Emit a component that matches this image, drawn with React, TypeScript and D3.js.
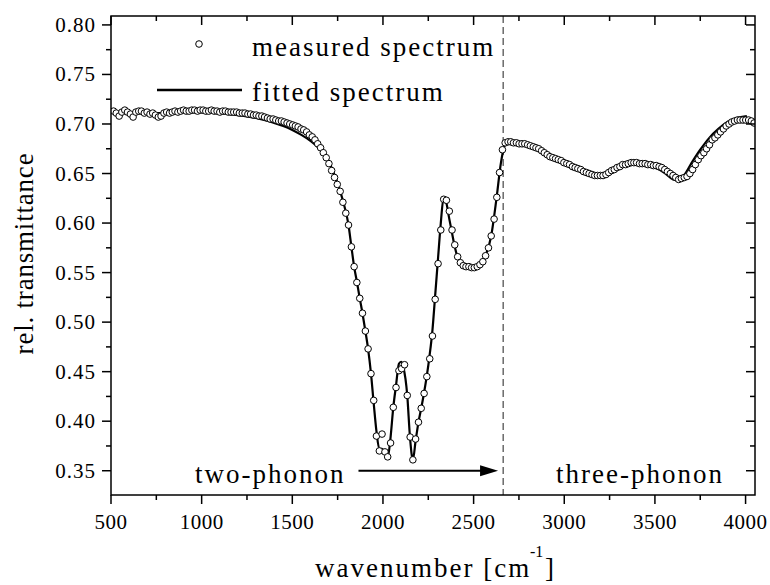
import React from 'react';
import * as d3 from 'd3';

// measured spectrum: wavenumber [cm^-1]
const wavenumbers = [
  514, 529, 545, 560, 576, 591, 607, 622, 637, 653,
  668, 684, 699, 715, 730, 745, 761, 776, 792, 807,
  823, 838, 853, 869, 884, 900, 915, 931, 946, 961,
  977, 992, 1008, 1023, 1039, 1054, 1069, 1085, 1100, 1116,
  1131, 1147, 1162, 1177, 1193, 1208, 1224, 1239, 1255, 1270,
  1286, 1301, 1316, 1332, 1347, 1363, 1378, 1394, 1409, 1425,
  1440, 1455, 1471, 1486, 1502, 1517, 1532, 1548, 1563, 1579,
  1594, 1610, 1625, 1640, 1656, 1671, 1687, 1702, 1717, 1733,
  1748, 1764, 1779, 1795, 1810, 1826, 1841, 1856, 1872, 1887,
  1903, 1918, 1934, 1949, 1964, 1980, 1995, 2011, 2026, 2042,
  2057, 2072, 2088, 2103, 2119, 2134, 2150, 2165, 2180, 2196,
  2211, 2227, 2242, 2258, 2273, 2288, 2304, 2319, 2335, 2350,
  2366, 2381, 2396, 2412, 2427, 2443, 2458, 2474, 2489, 2504,
  2520, 2535, 2551, 2566, 2582, 2597, 2613, 2628, 2643, 2659,
  2674, 2690, 2705, 2720, 2736, 2751, 2767, 2782, 2798, 2813,
  2829, 2844, 2859, 2875, 2890, 2906, 2921, 2937, 2952, 2967,
  2983, 2998, 3014, 3029, 3045, 3060, 3075, 3091, 3106, 3122,
  3137, 3153, 3168, 3183, 3199, 3214, 3230, 3245, 3261, 3276,
  3291, 3307, 3322, 3338, 3353, 3369, 3384, 3399, 3415, 3430,
  3446, 3461, 3477, 3492, 3507, 3523, 3538, 3554, 3569, 3585,
  3600, 3615, 3631, 3646, 3662, 3677, 3693, 3708, 3723, 3739,
  3754, 3770, 3785, 3801, 3816, 3831, 3847, 3862, 3878, 3893,
  3909, 3924, 3939, 3955, 3970, 3986, 4001, 4017, 4032, 4047,
];

// measured spectrum: relative transmittance
const measured = [
  0.713, 0.711, 0.708, 0.712, 0.714, 0.712, 0.710, 0.707, 0.712, 0.713,
  0.713, 0.711, 0.712, 0.710, 0.711, 0.709, 0.707, 0.708, 0.711, 0.712,
  0.711, 0.712, 0.713, 0.712, 0.713, 0.714, 0.713, 0.713, 0.714, 0.714,
  0.713, 0.714, 0.714, 0.713, 0.713, 0.714, 0.713, 0.713, 0.712, 0.713,
  0.713, 0.712, 0.712, 0.712, 0.712, 0.711, 0.711, 0.711, 0.710, 0.710,
  0.709, 0.709, 0.708, 0.708, 0.707, 0.706, 0.705, 0.705, 0.704, 0.703,
  0.703, 0.702, 0.701, 0.700, 0.699, 0.698, 0.697, 0.695, 0.694, 0.692,
  0.689, 0.687, 0.684, 0.680, 0.676, 0.671, 0.666, 0.660, 0.653, 0.646,
  0.639, 0.632, 0.621, 0.610, 0.598, 0.576, 0.556, 0.540, 0.524, 0.509,
  0.491, 0.473, 0.448, 0.421, 0.385, 0.370, 0.387, 0.369, 0.364, 0.378,
  0.414, 0.434, 0.451, 0.453, 0.457, 0.426, 0.384, 0.361, 0.382, 0.399,
  0.413, 0.428, 0.445, 0.463, 0.486, 0.523, 0.559, 0.593, 0.624, 0.623,
  0.612, 0.593, 0.578, 0.566, 0.560, 0.557, 0.556, 0.556, 0.555, 0.555,
  0.556, 0.558, 0.561, 0.567, 0.575, 0.587, 0.604, 0.626, 0.651, 0.674,
  0.681, 0.682, 0.682, 0.681, 0.681, 0.680, 0.680, 0.680, 0.679, 0.678,
  0.677, 0.676, 0.675, 0.673, 0.671, 0.669, 0.667, 0.666, 0.665, 0.664,
  0.663, 0.661, 0.660, 0.659, 0.657, 0.656, 0.655, 0.654, 0.652, 0.651,
  0.650, 0.649, 0.648, 0.648, 0.648, 0.648, 0.649, 0.651, 0.653, 0.654,
  0.656, 0.657, 0.659, 0.659, 0.660, 0.661, 0.661, 0.661, 0.660, 0.660,
  0.660, 0.659, 0.659, 0.658, 0.658, 0.657, 0.656, 0.654, 0.652, 0.650,
  0.648, 0.646, 0.644, 0.645, 0.646, 0.647, 0.650, 0.654, 0.659, 0.664,
  0.668, 0.671, 0.675, 0.679, 0.684, 0.686, 0.689, 0.692, 0.695, 0.698,
  0.700, 0.702, 0.703, 0.704, 0.704, 0.704, 0.704, 0.704, 0.703, 0.701,
];

// fitted spectrum
const fitWavenumbers = [
  514, 600, 700, 800, 900, 1000, 1100, 1200, 1300, 1400,
  1450, 1500, 1550, 1600, 1650, 1700, 1750, 1780, 1810, 1826,
  1841, 1857, 1872, 1887, 1903, 1918, 1934, 1949, 1964, 1980,
  1995, 2011, 2026, 2041, 2057, 2072, 2088, 2100, 2112, 2134,
  2149, 2165, 2180, 2196, 2211, 2226, 2242, 2257, 2273, 2288,
  2304, 2319, 2334, 2350, 2365, 2381, 2396, 2411, 2427, 2450,
  2500, 2535, 2566, 2597, 2627, 2650, 2670, 2690, 2750, 2800,
  2850, 2900, 2950, 3000, 3050, 3100, 3150, 3200, 3250, 3300,
  3350, 3400, 3450, 3500, 3550, 3600, 3630, 3660, 3700, 3750,
  3800, 3850, 3900, 3950, 4007,
];
const fitted = [
  0.711, 0.711, 0.711, 0.711, 0.712, 0.712, 0.711, 0.709, 0.706, 0.701,
  0.698, 0.694, 0.689, 0.683, 0.675, 0.662, 0.640, 0.622, 0.598, 0.576,
  0.556, 0.540, 0.524, 0.509, 0.491, 0.473, 0.448, 0.418, 0.390, 0.372,
  0.372, 0.368, 0.363, 0.382, 0.414, 0.436, 0.458, 0.460, 0.455, 0.426,
  0.384, 0.361, 0.380, 0.399, 0.413, 0.428, 0.446, 0.466, 0.492, 0.527,
  0.565, 0.600, 0.625, 0.620, 0.605, 0.590, 0.576, 0.566, 0.560, 0.556,
  0.555, 0.558, 0.567, 0.587, 0.626, 0.660, 0.678, 0.683, 0.681, 0.679,
  0.675, 0.670, 0.665, 0.661, 0.657, 0.652, 0.649, 0.647, 0.650, 0.656,
  0.659, 0.661, 0.659, 0.656, 0.651, 0.644, 0.643, 0.648, 0.660, 0.674,
  0.686, 0.695, 0.702, 0.706, 0.708,
];

const xMajorTicks = [500, 1000, 1500, 2000, 2500, 3000, 3500, 4000];
const xMinorTicks = [750, 1250, 1750, 2250, 2750, 3250, 3750];
const yMajorTicks = [0.35, 0.40, 0.45, 0.50, 0.55, 0.60, 0.65, 0.70, 0.75, 0.80];
const yMinorTicks = [0.375, 0.425, 0.475, 0.525, 0.575, 0.625, 0.675, 0.725, 0.775];

const xDomain = [500, 4052];
const yDomain = [0.3255, 0.809];
const regionBoundary = 2663;
const arrowFrom = 1865;
const arrowTo = 2635;
const arrowLevel = 0.35;

const FONT = "'Liberation Serif', 'Times New Roman', serif";

export default function App() {
  const W = 770, H = 585;
  const left = 111, right = 755, top = 16, bottom = 495;
  const x = d3.scaleLinear().domain(xDomain).range([left, right]);
  const y = d3.scaleLinear().domain(yDomain).range([bottom, top]);

  const fitPts: [number, number][] = fitWavenumbers.map((w, i) => [w, fitted[i]]);
  const line = d3.line<[number, number]>()
    .x(d => x(d[0]))
    .y(d => y(d[1]))
    .curve(d3.curveMonotoneX);

  const fmt = d3.format('.2f');
  const ax = x(arrowTo);
  const ay = y(arrowLevel);

  return (
    <svg width={W} height={H} style={{ position: 'absolute', left: 0, top: 0, background: '#fff' }}
      fontFamily={FONT}>
      <rect x={0} y={0} width={W} height={H} fill="#fff" />
      <defs>
        <clipPath id="plotclip">
          <rect x={left} y={top} width={right - left} height={bottom - top} />
        </clipPath>
      </defs>

      {/* dashed boundary */}
      <line x1={x(regionBoundary)} x2={x(regionBoundary)} y1={top} y2={bottom}
        stroke="#444" strokeWidth={1.2} strokeDasharray="7,4" />

      {/* fitted line and measured points */}
      <g clipPath="url(#plotclip)">
        <path d={line(fitPts) || ''} fill="none" stroke="#000" strokeWidth={2.2} />
        {wavenumbers.map((w, i) => (
          <circle key={i} cx={x(w)} cy={y(measured[i])} r={3.3}
            fill="#fff" stroke="#000" strokeWidth={1} />
        ))}
      </g>

      {/* frame */}
      <rect x={left} y={top} width={right - left} height={bottom - top}
        fill="none" stroke="#000" strokeWidth={1.5} />

      {/* x ticks */}
      {xMajorTicks.map(t => (
        <g key={'xM' + t}>
          <line x1={x(t)} x2={x(t)} y1={bottom} y2={bottom + 9} stroke="#000" strokeWidth={1.5} />
          <line x1={x(t)} x2={x(t)} y1={top} y2={top + 9} stroke="#000" strokeWidth={1.5} />
          <text x={x(t)} y={529} fontSize={21} textAnchor="middle" letterSpacing={0.5}>{t}</text>
        </g>
      ))}
      {xMinorTicks.map(t => (
        <g key={'xm' + t}>
          <line x1={x(t)} x2={x(t)} y1={bottom} y2={bottom + 5} stroke="#000" strokeWidth={1.5} />
          <line x1={x(t)} x2={x(t)} y1={top} y2={top + 5} stroke="#000" strokeWidth={1.5} />
        </g>
      ))}

      {/* y ticks */}
      {yMajorTicks.map(t => (
        <g key={'yM' + t}>
          <line x1={left - 9} x2={left} y1={y(t)} y2={y(t)} stroke="#000" strokeWidth={1.5} />
          <line x1={right - 9} x2={right} y1={y(t)} y2={y(t)} stroke="#000" strokeWidth={1.5} />
          <text x={96} y={y(t) + 7} fontSize={21} textAnchor="end" letterSpacing={1}>{fmt(t)}</text>
        </g>
      ))}
      {yMinorTicks.map(t => (
        <g key={'ym' + t}>
          <line x1={left - 5} x2={left} y1={y(t)} y2={y(t)} stroke="#000" strokeWidth={1.5} />
          <line x1={right - 5} x2={right} y1={y(t)} y2={y(t)} stroke="#000" strokeWidth={1.5} />
        </g>
      ))}

      {/* legend */}
      <circle cx={199} cy={44} r={3.3} fill="#fff" stroke="#000" strokeWidth={1} />
      <text x={252} y={56} fontSize={27} letterSpacing={2}>measured spectrum</text>
      <line x1={157} x2={242} y1={90} y2={90} stroke="#000" strokeWidth={2.5} />
      <text x={252} y={101} fontSize={27} letterSpacing={2}>fitted spectrum</text>

      {/* region labels */}
      <text x={195} y={482.5} fontSize={27} letterSpacing={2}>two-phonon</text>
      <text x={556} y={482.5} fontSize={27} letterSpacing={2}>three-phonon</text>
      <line x1={x(arrowFrom)} x2={ax - 16} y1={ay} y2={ay} stroke="#000" strokeWidth={2.2} />
      <polygon points={`${ax},${ay} ${ax - 18},${ay - 5.5} ${ax - 18},${ay + 5.5}`} fill="#000" />

      {/* axis titles */}
      <text x={315} y={577} fontSize={27} letterSpacing={2}>wavenumber [cm</text>
      <text x={530} y={557} fontSize={16}>-1</text>
      <text x={545} y={577} fontSize={27}>]</text>
      <text transform={`translate(33, ${(top + bottom) / 2 - 2}) rotate(-90)`} fontSize={27}
        textAnchor="middle" letterSpacing={0.8}>rel. transmittance</text>
    </svg>
  );
}
